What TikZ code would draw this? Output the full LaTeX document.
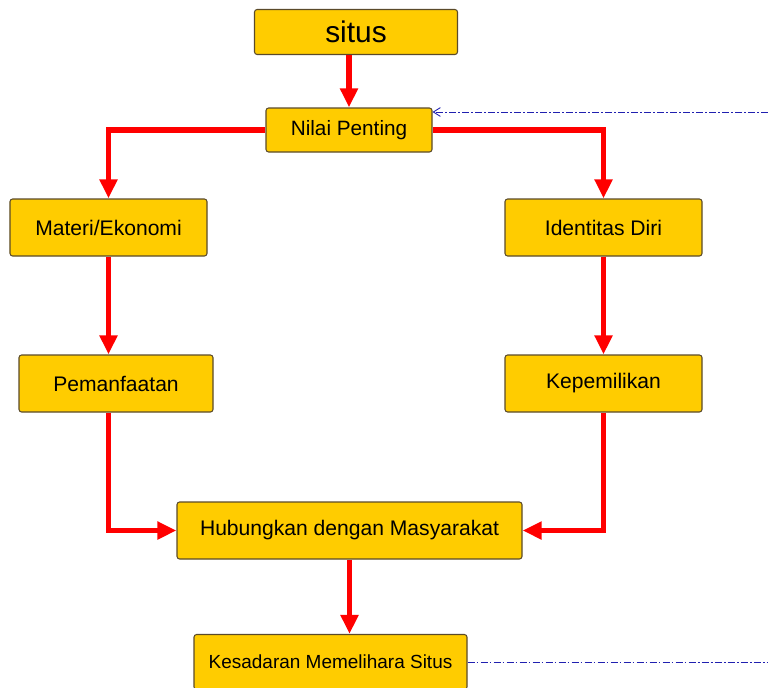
\documentclass[tikz,border=0pt]{standalone}
\usepackage{fontspec}
\setmainfont{Liberation Sans}
\usepackage{tikz}
\usetikzlibrary{shapes,arrows.meta,positioning}
\usepackage{xcolor}
\definecolor{kuning}{HTML}{FFCC00}
\definecolor{garis}{HTML}{5A4A2A}
\definecolor{merah}{HTML}{FF0000}
\definecolor{biru}{HTML}{2020B0}

\begin{document}
\begin{tikzpicture}[
    kotak/.style={draw=garis, fill=kuning, rounded corners=1.5pt, line width=0.6pt,
        minimum height=1.14cm, inner sep=0pt, font=\fontsize{12}{14}\selectfont},
    panah/.style={draw=merah, line width=3.4pt,
        -{Triangle[width=0.34cm, length=0.38cm]}},
    putus/.style={draw=biru, line width=0.5pt, dash pattern=on 4pt off 1.2pt on 1pt off 1.2pt}
]

        % Batas gambar
        \useasboundingbox (0, 0) rectangle (15.36, -13.74);

        % Kotak utama
        \node[kotak, minimum width=4.06cm, minimum height=0.9cm, font=\fontsize{17}{19}\selectfont] (situs) at (7.12, -0.64) {situs};
        \node[kotak, minimum width=3.32cm, minimum height=0.88cm, font=\fontsize{11.8}{13}\selectfont] (nilai) at (6.98, -2.6) {Nilai Penting};

        % Cabang kiri
        \node[kotak, minimum width=3.94cm] (materi) at (2.17, -4.55) {Materi/Ekonomi};
        \node[kotak, minimum width=3.88cm] (manfaat) at (2.32, -7.67) {Pemanfaatan};

        % Cabang kanan
        \node[kotak, minimum width=3.94cm] (identitas) at (12.07, -4.55) {Identitas Diri};
        \node[kotak, minimum width=3.94cm] (milik) at (12.07, -7.67) {Kepemilikan};

        % Kotak bawah
        \node[kotak, minimum width=6.9cm] (hubung) at (6.99, -10.61) {Hubungkan dengan Masyarakat};
        \node[kotak, minimum width=5.46cm, minimum height=1.1cm, font=\fontsize{10.8}{12}\selectfont] (sadar) at (6.61, -13.24) {Kesadaran Memelihara Situs};

        % Titik ujung garis biru
        \coordinate (ujungA) at (15.36, -2.24);
        \coordinate (ujungB) at (15.36, -13.24);

        % Panah merah
        \draw[panah] (situs.south -| nilai) -- (nilai.north);
        \draw[panah] (nilai.west) -| (materi.north);
        \draw[panah] (nilai.east) -| (identitas.north);
        \draw[panah] (materi.south) -- (materi.south |- manfaat.north);
        \draw[panah] (identitas.south) -- (milik.north);
        \draw[panah] (manfaat.south -| materi) |- (hubung.west);
        \draw[panah] (milik.south) |- (hubung.east);
        \draw[panah] (hubung.south) -- (hubung.south |- sadar.north);

        % Garis putus-putus biru
        \draw[putus, -{Straight Barb[length=4pt, width=5pt]}] (ujungA) -- (nilai.north east |- ujungA);
        \draw[putus] (sadar.east) -- (ujungB);

\end{tikzpicture}
\end{document}
